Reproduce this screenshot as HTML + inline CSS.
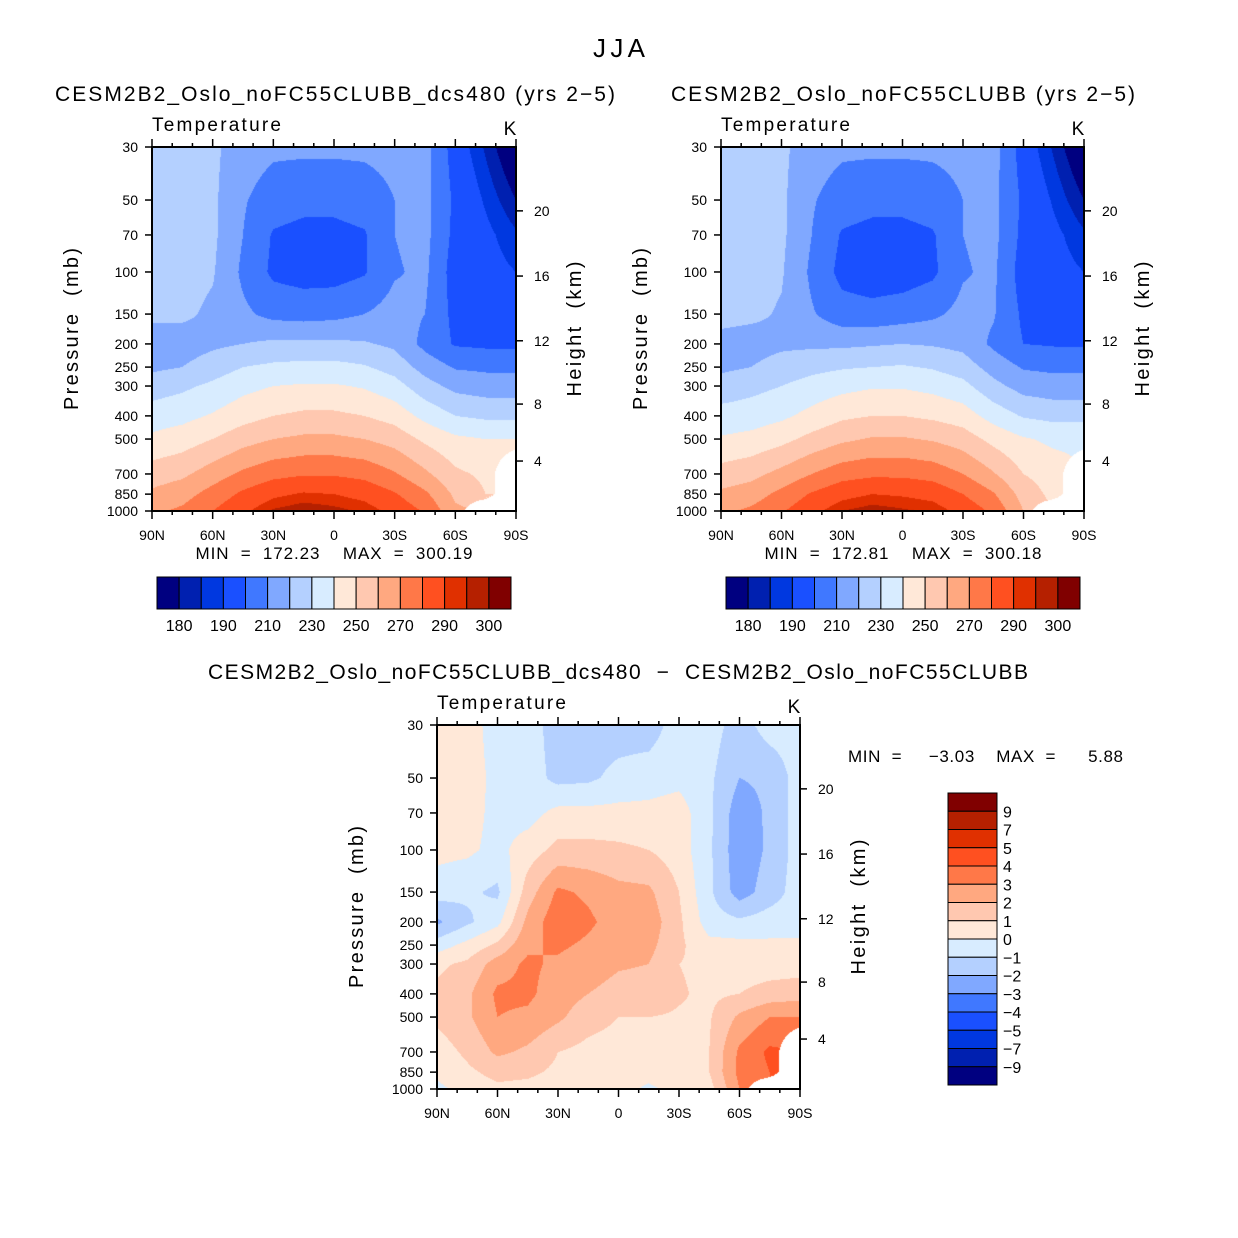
<!DOCTYPE html>
<html><head><meta charset="utf-8"><style>
body{margin:0;background:#fff;}
#wrap{position:relative;width:1238px;height:1238px;overflow:hidden;background:#fff;}
canvas{position:absolute;}
svg{position:absolute;left:0;top:0;}
text{font-family:"Liberation Sans",sans-serif;fill:#000;white-space:pre;}
</style></head><body>
<div id="wrap">
<canvas id="c1" width="364" height="364" style="left:152px;top:147px"></canvas>
<canvas id="c2" width="363" height="364" style="left:721px;top:147px"></canvas>
<canvas id="c3" width="363" height="364" style="left:437px;top:725px"></canvas>
<svg id="s" width="1238" height="1238"></svg>
</div>
<script>
const lats=[90,75,60,45,30,15,0,-15,-30,-45,-60,-75,-90];
const plevs=[30,50,70,100,150,200,250,300,400,500,700,850,1000];
const N=null;
const temp1=[
[225,225,222,215,212,212,212,212,213,214,195,184,172],
[225,225,222,211,205,203,203,205,210,213,198,189,180],
[225,225,222,210,199,197,197,199,210,213,197,192,186],
[225,224,221,208,198,196,196,199,209,212,195,193,190],
[222,222,218,212,207,206,207,210,214,210,197,196,196],
[215,215,218,220,222,222,222,221,218,207,199,198,198],
[218,220,225,230,232,233,233,231,226,216,209,208,208],
[225,228,232,237,240,241,241,239,234,224,217,215,215],
[235,237,241,246,250,252,252,250,246,237,230,228,228],
[242,245,250,256,260,262,262,260,256,248,242,240,240],
[255,258,265,272,277,279,279,277,271,262,252,248,N],
[262,266,274,282,288,291,290,287,281,272,258,250,N],
[268,272,280,288,296,299,297,294,287,279,262,N,N]];
const temp2=[
[225,225,222,215,212,212,212,212,213,214,195,184,172],
[225,225,222,211,205,203,203,205,210,213,198,189,180],
[225,225,222,210,199,197,197,199,210,213,197,192,186],
[225,224,221,208,197,195,195,198,209,212,195,193,190],
[223,222,219,211,204,203,205,208,213,211,198,196,196],
[217,216,218,218,218,219,220,219,217,208,200,199,199],
[218,220,224,227,229,230,231,229,225,216,209,208,208],
[224,227,230,234,237,239,239,237,233,223,216,214,214],
[234,235,238,243,248,250,250,248,245,236,229,227,227],
[241,243,247,253,258,261,261,259,255,247,241,238,238],
[254,257,263,270,276,278,278,276,270,261,250,245,N],
[262,265,273,281,287,290,289,287,280,271,256,247,N],
[268,272,279,287,295,298,296,294,287,278,260,N,N]];
const diff=[
[0.5,0.5,-0.5,-0.5,-1.5,-1.5,-1.5,-1.5,-0.5,-0.5,-1.5,-0.5,-0.5],
[0.5,0.5,-0.3,-0.5,-1.3,-1.2,-0.7,-0.5,-0.3,-0.8,-2.0,-1.8,-0.5],
[0.5,0.4,-0.3,-0.4,0.3,0.3,0.3,0.3,0.5,-0.8,-2.6,-1.8,-0.5],
[0.3,0.2,-0.3,0.5,1.3,1.3,1.2,1.0,0.5,-0.8,-2.7,-1.8,-0.5],
[-0.5,-0.8,-1.2,1.5,3.2,2.8,2.3,2.2,1.0,-0.8,-2.5,-1.5,-0.5],
[-2.2,-1.2,-0.3,2.3,3.7,3.2,2.5,2.6,1.2,-0.5,-0.8,-0.5,-0.5],
[-0.5,0.3,1.2,2.8,3.2,2.8,2.3,2.3,1.2,0.3,0.3,0.2,0.2],
[0.8,1.2,2.5,3.2,2.8,2.4,2.1,2.0,1.0,0.8,0.5,0.5,0.5],
[1.2,1.8,3.2,3.2,2.5,2.0,1.7,1.6,1.1,0.8,1.0,1.4,1.6],
[1.2,1.8,3.0,2.8,2.2,1.4,1.0,1.0,0.9,0.9,2.2,3.0,3.0],
[0.5,1.2,2.2,1.8,1.0,0.7,0.6,0.6,0.7,1.0,3.2,4.2,N],
[0.3,0.8,1.3,1.2,0.8,0.5,0.5,0.4,0.6,1.0,3.3,4.0,N],
[-0.3,0.5,0.8,0.7,0.5,0.5,0.4,-0.2,0.4,0.6,3.0,N,N]];
const tempLevels=[180,185,190,200,210,220,230,240,250,260,270,280,290,295,300];
const diffLevels=[-9,-7,-5,-4,-3,-2,-1,0,1,2,3,4,5,7,9];
const tempTickLabels=["180","190","210","230","250","270","290","300"];
const tempTickIdx=[0,2,4,6,8,10,12,14];
const diffTickLabels=["9","7","5","4","3","2","1","0","−1","−2","−3","−4","−5","−7","−9"];
const pLabels=["30","50","70","100","150","200","250","300","400","500","700","850","1000"];
const latLabels=["90N","60N","30N","0","30S","60S","90S"];
const latTicks=[90,60,30,0,-30,-60,-90];
const hLabels=[20,16,12,8,4];
const hPress=[55.5,104,194,357,618];
const cols=["#000080","#0020b0","#0038e0","#1a50ff","#4078ff","#80a8ff","#b4d0ff","#d8ecff","#ffe8d8","#ffc8b0","#ffa880","#ff7848","#ff5020","#e03000","#b52000","#800000"];
function hex(c){return [parseInt(c.substr(1,2),16),parseInt(c.substr(3,2),16),parseInt(c.substr(5,2),16)];}
const rgb=cols.map(hex);
const L0=Math.log(30),L1=Math.log(1000);
function yOf(p,top){return top+(Math.log(p)-L0)/(L1-L0)*364;}
function xOf(lat,left,w){return left+(90-lat)/180*w;}
function fill(id,grid,levels){
  const cv=document.getElementById(id),ctx=cv.getContext('2d');
  const W=cv.width,H=cv.height,img=ctx.createImageData(W,H);
  const lp=plevs.map(Math.log);
  for(let py=0;py<H;py++){
    const lg=L0+(py+0.5)/H*(L1-L0);
    let j=0;while(j<lp.length-2&&lg>lp[j+1])j++;
    const fy=Math.min(1,Math.max(0,(lg-lp[j])/(lp[j+1]-lp[j])));
    for(let px=0;px<W;px++){
      const fx0=(px+0.5)/W*12;let i=Math.min(11,Math.floor(fx0));const fx=fx0-i;
      const c=[[grid[j][i],(1-fx)*(1-fy)],[grid[j][i+1],fx*(1-fy)],[grid[j+1][i],(1-fx)*fy],[grid[j+1][i+1],fx*fy]];
      let s=0,w=0,nw=0;
      for(const [v,wt] of c){if(v===null)nw+=wt;else{s+=v*wt;w+=wt;}}
      const k=(py*W+px)*4;
      if(nw>0.3){img.data[k]=255;img.data[k+1]=255;img.data[k+2]=255;img.data[k+3]=255;continue;}
      const v=s/w;let idx=0;for(const b of levels)if(v>=b)idx++;
      const col=rgb[idx];img.data[k]=col[0];img.data[k+1]=col[1];img.data[k+2]=col[2];img.data[k+3]=255;
    }
  }
  ctx.putImageData(img,0,0);
}
fill('c1',temp1,tempLevels);fill('c2',temp2,tempLevels);fill('c3',diff,diffLevels);

const S=document.getElementById('s');const NS='http://www.w3.org/2000/svg';
function el(t,a,txt){const e=document.createElementNS(NS,t);for(const k in a)e.setAttribute(k,a[k]);if(txt!==undefined)e.textContent=txt;S.appendChild(e);return e;}
function txt(x,y,s,size,anchor,name,rot,len){const e=el('text',{x:x,y:y,'font-size':size,'text-anchor':anchor||'start'},s);


if(len){e.setAttribute('textLength',len);e.setAttribute('lengthAdjust','spacing');}
if(rot)e.setAttribute('transform','rotate(-90 '+x+' '+y+')');return e;}
function line(x1,y1,x2,y2,w,name){const e=el('line',{x1:x1,y1:y1,x2:x2,y2:y2,stroke:'#000','stroke-width':w||1.5});

}
function panel(left,top,w,pre){
  const r=el('rect',{x:left,y:top,width:w,height:364,fill:'none',stroke:'#000','stroke-width':2});
  
  
  plevs.forEach((p,i)=>{const y=yOf(p,top);line(left-7,y,left,y,1.5,pre+'-ytick');
    txt(left-14,y+5,pLabels[i],14,'end',pre+'-ytick-label');});
  for(let lat=90;lat>=-90;lat-=10){const x=xOf(lat,left,w);const major=lat%30===0;
    line(x,top+364,x,top+364+(major?8:4),1.5,pre+'-xtick');line(x,top,x,top+(major?-8:-4),1.5,pre+'-top-tick');}
  latTicks.forEach((lat,i)=>txt(xOf(lat,left,w),top+364+29,latLabels[i],14,'middle',pre+'-xtick-label'));
  hLabels.forEach((h,i)=>{const y=yOf(hPress[i],top);line(left+w,y,left+w+7,y,1.5,pre+'-height-tick');
    txt(left+w+18,y+5,String(h),14,'start',pre+'-height-label');});
  txt(left,top-16,'Temperature',19,'start',pre+'-subtitle',false,129);
  txt(left+w-6,top-12,'K',19,'middle',pre+'-units');
  txt(left-74,top+182,'Pressure  (mb)',20,'middle',pre+'-y-axis-title',true,162);
  txt(left+w+65,top+182,'Height  (km)',20,'middle',pre+'-height-axis-title',true,135);
}
function hbar(left,top,pre){
  const bw=354/16;
  cols.forEach((c,i)=>{const r=el('rect',{x:left+i*bw,y:top,width:bw,height:32,fill:c,stroke:'#000','stroke-width':1});
    
    });
  tempTickIdx.forEach((b,i)=>txt(left+(b+1)*bw,top+54,tempTickLabels[i],16,'middle',pre+'-colorbar-label'));
}
txt(619,57,'JJA',26,'middle','figure-title',false,52);
txt(335,101,'CESM2B2_Oslo_noFC55CLUBB_dcs480 (yrs 2−5)',21,'middle','panel1-title',false,560);
txt(903,101,'CESM2B2_Oslo_noFC55CLUBB (yrs 2−5)',21,'middle','panel2-title',false,464);
txt(618,679,'CESM2B2_Oslo_noFC55CLUBB_dcs480  −  CESM2B2_Oslo_noFC55CLUBB',21,'middle','diff-title',false,820);
panel(152,147,364,'panel1');panel(721,147,363,'panel2');panel(437,725,363,'diff');
txt(334,559,'MIN  =  172.23    MAX  =  300.19',17,'middle','panel1-minmax',false,277);
txt(903,559,'MIN  =  172.81    MAX  =  300.18',17,'middle','panel2-minmax',false,277);
txt(848,762,'MIN  =     −3.03    MAX  =      5.88',17,'start','diff-minmax',false,275);
hbar(157,577,'panel1');hbar(726,577,'panel2');
const bh=292/16;
cols.slice().reverse().forEach((c,i)=>{const r=el('rect',{x:948,y:793+i*bh,width:49,height:bh,fill:c,stroke:'#000','stroke-width':1});
  
  });
diffTickLabels.forEach((l,i)=>txt(1003,793+(i+1)*bh+6,l,16,'start','diff-colorbar-label'));
</script>
</body></html>
